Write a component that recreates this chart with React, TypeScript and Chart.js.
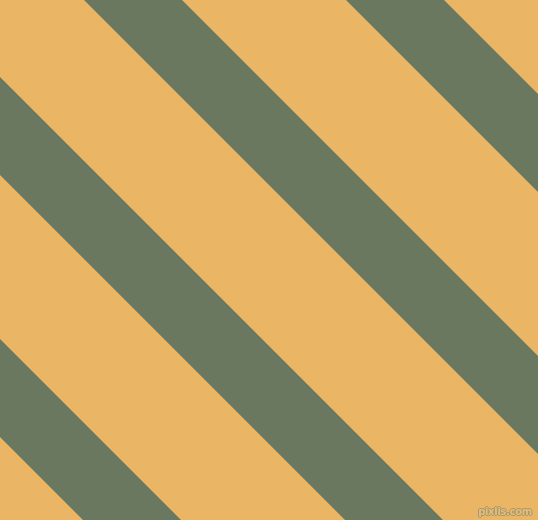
import React, { useEffect, useRef } from "react";
import { Chart, registerables } from "chart.js";

Chart.register(...registerables);

// Diagonal stripes: each stripe spans x - y in [offset, offset + stripeWidth]
const stripeOffsets = [-437, -175, 84, 346];
const stripeWidth = 98;
const yRange = [-120, 640];
const background = "#EAB666";
const stripeColor = "#69785E";
const watermark = "pixlis.com";

export default function App() {
  const ref = useRef<HTMLCanvasElement | null>(null);

  useEffect(() => {
    document.body.style.margin = "0";
    const canvas = ref.current;
    if (!canvas) return;
    const datasets = stripeOffsets.map((o) => {
      const c = o + stripeWidth / 2;
      return {
        label: `stripe ${o}`,
        data: yRange.map((y) => ({ x: c + y, y })),
        showLine: true,
        borderColor: stripeColor,
        backgroundColor: stripeColor,
        borderWidth: stripeWidth / Math.SQRT2,
        borderCapStyle: "butt" as const,
        pointRadius: 0,
        fill: false,
      };
    });
    const chart = new Chart(canvas, {
      type: "scatter",
      data: { datasets },
      options: {
        animation: false,
        responsive: false,
        devicePixelRatio: 1,
        layout: { padding: 0 },
        plugins: { legend: { display: false }, tooltip: { enabled: false } },
        scales: {
          x: { type: "linear", min: 0, max: 538, display: false },
          y: { type: "linear", min: 0, max: 520, reverse: true, display: false },
        },
      },
    });
    return () => chart.destroy();
  }, []);

  return (
    <div style={{ position: "relative", width: 538, height: 520, background }}>
      <canvas ref={ref} width={538} height={520} style={{ display: "block" }} />
      <div
        style={{
          position: "absolute",
          right: 6,
          bottom: 3,
          fontFamily: "DejaVu Sans, sans-serif",
          fontSize: 10,
          fontWeight: "bold",
          color: "#E3C07A",
          textShadow:
            "1px 0 0 #A8956A, -1px 0 0 #A8956A, 0 1px 0 #A8956A, 0 -1px 0 #A8956A",
          letterSpacing: -0.3,
        }}
      >
        {watermark}
      </div>
    </div>
  );
}
